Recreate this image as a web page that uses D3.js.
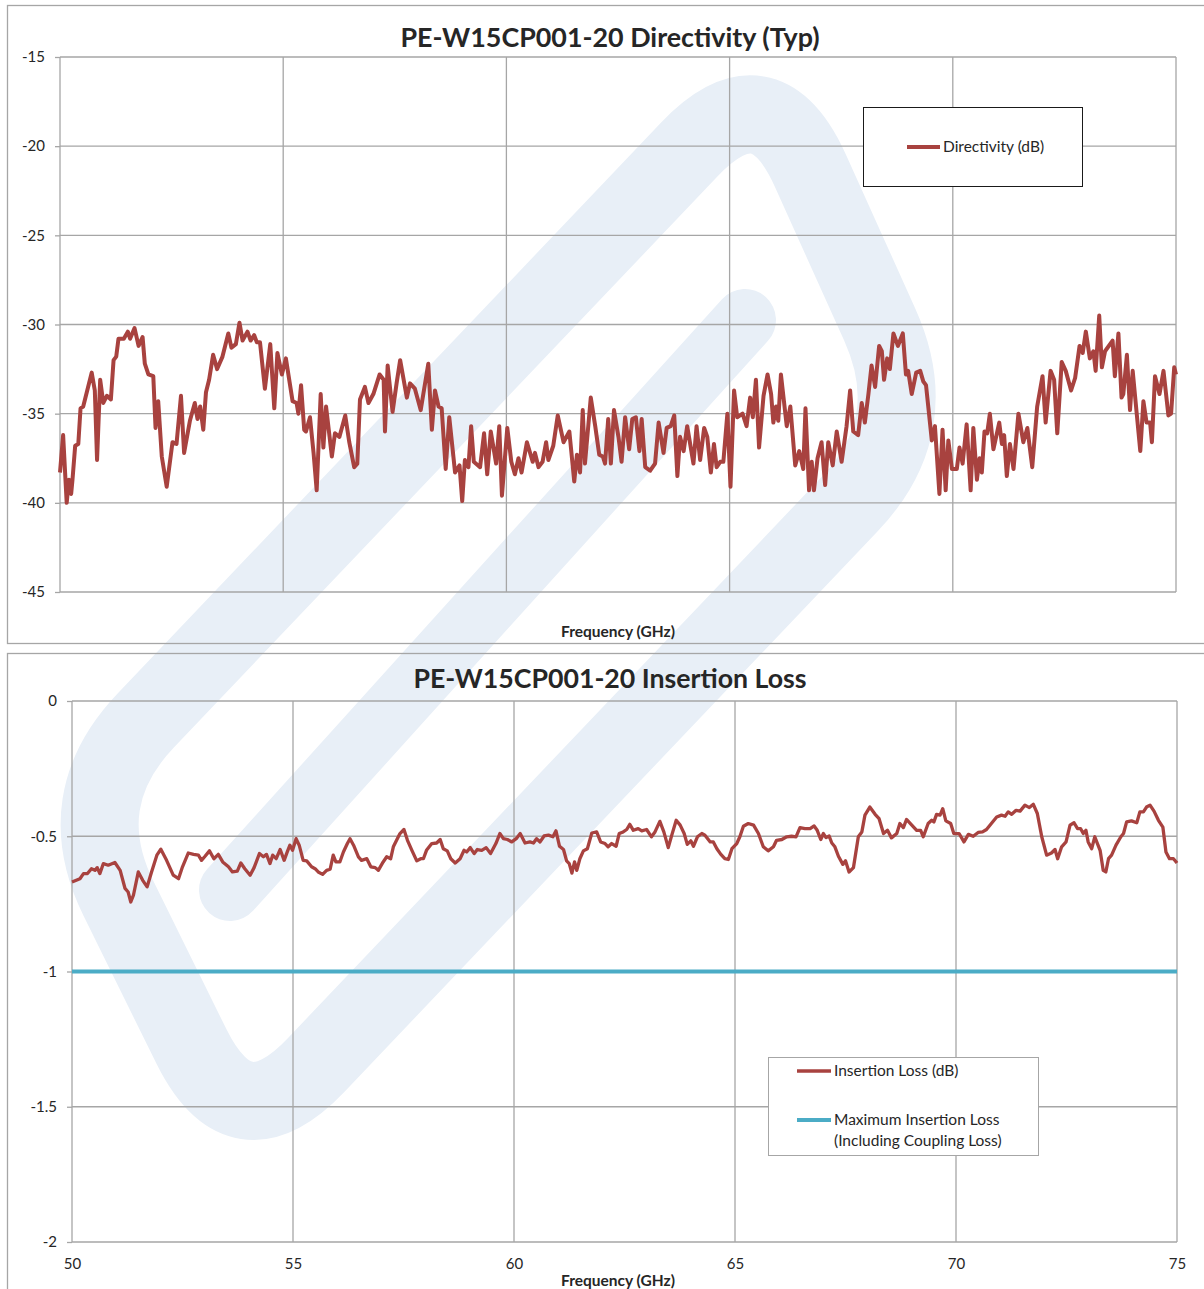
<!DOCTYPE html>
<html><head><meta charset="utf-8">
<script src="https://d3js.org/d3.v7.min.js"></script>
<style>
body { margin:0; background:#fff; }
svg text { font-family: Lato, "Open Sans", sans-serif; fill:#262626; }
</style></head>
<body>
<svg id="chart" width="1204" height="1289"></svg>
<script>
// ---- data ----
var xTicks = [50, 55, 60, 65, 70, 75];
var dirTicks = [-45, -40, -35, -30, -25, -20, -15];
var ilTicks = [-2, -1.5, -1, -0.5, 0];
var ilTickLabels = ["-2", "-1.5", "-1", "-0.5", "0"];

var dirFreq = [50.0,50.07,50.15,50.2,50.25,50.28,50.34,50.41,50.46,50.52,50.61,50.71,50.78,50.83,50.9,50.97,51.05,51.14,51.2,51.26,51.31,51.43,51.52,51.57,51.67,51.76,51.85,51.9,51.98,52.09,52.14,52.2,52.28,52.39,52.52,52.61,52.71,52.78,52.91,53.02,53.08,53.14,53.21,53.27,53.34,53.43,53.52,53.64,53.77,53.84,53.94,54.02,54.09,54.2,54.27,54.35,54.41,54.48,54.59,54.71,54.8,54.87,54.97,55.06,55.21,55.3,55.34,55.4,55.47,55.51,55.6,55.68,55.75,55.84,55.9,55.96,56.09,56.16,56.26,56.39,56.48,56.59,56.66,56.72,56.83,56.91,57.02,57.16,57.25,57.28,57.34,57.45,57.54,57.62,
57.77,57.84,57.95,58.08,58.25,58.33,58.4,58.48,58.55,58.64,58.72,58.85,58.95,59.01,59.07,59.15,59.21,59.27,59.41,59.5,59.57,59.65,59.77,59.84,59.9,60.02,60.11,60.19,60.27,60.34,60.46,60.59,60.64,60.72,60.81,60.89,60.94,61.05,61.15,61.28,61.41,61.52,61.58,61.65,61.71,61.76,61.89,61.99,62.08,62.16,62.21,62.28,62.34,62.41,62.51,62.58,62.66,62.75,62.82,62.9,62.98,63.03,63.11,63.22,63.33,63.41,63.52,63.59,63.68,63.76,63.83,63.89,63.97,64.05,64.19,64.26,64.34,64.43,64.5,64.58,64.65,64.71,64.79,64.86,64.95,65.02,65.1,65.17,65.29,65.38,65.46,65.52,65.59,65.66,65.76,65.85,65.93,65.98,66.04,66.09,66.15,66.28,66.36,66.47,66.56,
66.65,66.7,66.78,66.84,66.89,66.97,67.06,67.14,67.21,67.31,67.4,67.51,67.62,67.7,67.77,67.88,67.96,68.03,68.11,68.18,68.26,68.35,68.41,68.46,68.53,68.59,68.67,68.77,68.88,68.95,69.0,69.08,69.18,69.27,69.34,69.4,69.53,69.6,69.7,69.77,69.84,69.9,69.98,70.09,70.15,70.22,70.31,70.4,70.46,70.54,70.6,70.65,70.71,70.77,70.83,70.91,71.04,71.1,71.15,71.21,71.28,71.36,71.47,71.58,71.67,71.78,71.89,72.01,72.08,72.19,72.27,72.34,72.44,72.53,72.65,72.74,72.84,72.91,72.98,73.07,73.15,73.2,73.28,73.34,73.41,73.58,73.63,73.71,73.78,73.82,73.9,73.97,74.03,74.12,74.2,74.27,74.34,74.42,74.46,74.53,74.63,74.72,74.83,74.89,74.96,75.0];
var dirDb = [-38.3,-36.2,-40.0,-38.7,-39.5,-38.7,-36.8,-36.7,-34.7,-34.6,-33.7,-32.7,-33.7,-37.6,-33.1,-34.4,-34.0,-34.2,-32.0,-31.8,-30.8,-30.8,-30.4,-30.8,-30.2,-31.2,-30.7,-32.2,-32.8,-32.9,-35.8,-34.3,-37.4,-39.1,-36.6,-36.7,-34.0,-37.2,-35.4,-34.4,-35.3,-34.6,-35.9,-33.8,-33.1,-31.7,-32.5,-31.8,-30.5,-31.3,-31.1,-29.9,-30.9,-30.4,-30.9,-30.6,-31.0,-31.0,-33.6,-31.1,-34.7,-31.6,-32.8,-31.9,-34.3,-34.4,-35.0,-33.4,-35.9,-36.0,-35.2,-37.2,-39.3,-33.9,-36.9,-34.6,-37.4,-36.1,-36.3,-35.1,-36.6,-38.0,-37.8,-34.2,-33.5,-34.4,-33.9,-32.8,-33.1,-36.0,-32.3,-34.9,-33.3,-32.0,
-34.1,-33.3,-33.6,-34.8,-32.2,-35.9,-33.7,-34.6,-34.7,-38.1,-35.2,-38.3,-37.9,-39.9,-37.6,-38.0,-35.7,-37.7,-38.0,-36.1,-38.4,-36.0,-37.8,-35.7,-39.6,-35.8,-37.7,-38.4,-37.5,-38.3,-36.6,-37.7,-37.2,-38.0,-37.7,-36.6,-37.6,-36.8,-35.1,-36.6,-36.0,-38.8,-37.3,-38.3,-34.8,-37.8,-34.1,-35.7,-37.3,-37.4,-37.8,-35.3,-37.8,-34.8,-36.3,-37.7,-35.2,-37.0,-35.3,-35.2,-37.1,-35.3,-38.0,-38.2,-37.8,-35.5,-37.2,-35.8,-35.7,-35.1,-38.5,-36.3,-37.1,-35.7,-37.8,-35.7,-37.6,-35.8,-36.3,-38.3,-36.7,-38.0,-37.7,-37.7,-35.0,-39.1,-33.7,-35.2,-35.0,-35.7,-34.1,-35.2,-33.1,-36.9,-34.0,-32.8,-33.9,-35.5,-34.6,-35.4,-32.8,-35.7,-34.6,-37.9,-37.1,
-38.1,-34.7,-39.3,-37.7,-39.3,-37.5,-36.6,-39.0,-36.6,-37.9,-36.0,-37.7,-35.7,-33.7,-36.0,-36.2,-34.4,-35.5,-33.9,-32.3,-33.5,-31.2,-31.5,-33.1,-31.9,-32.5,-30.5,-31.2,-30.5,-32.8,-32.6,-33.9,-32.7,-32.6,-33.2,-33.4,-36.5,-35.7,-39.5,-35.9,-39.3,-36.5,-38.1,-38.1,-36.9,-37.8,-35.6,-39.3,-35.8,-38.7,-37.5,-38.3,-36.0,-36.1,-35.0,-37.0,-35.5,-36.7,-36.2,-38.5,-36.7,-38.1,-35.0,-36.6,-35.8,-38.0,-34.6,-32.9,-35.5,-32.6,-33.1,-36.1,-32.1,-32.6,-33.7,-33.0,-31.2,-31.6,-30.4,-31.9,-31.5,-32.6,-29.5,-32.4,-31.5,-30.9,-32.9,-30.5,-34.1,-33.9,-31.7,-34.8,-32.6,-35.0,-37.1,-34.3,-35.5,-35.5,-36.6,-32.9,-33.9,-32.6,-35.1,-35.0,-32.4,-32.8];

var ilFreq = [50.0,50.18,50.26,50.35,50.44,50.52,50.57,50.63,50.71,50.82,50.97,51.09,51.2,51.27,51.33,51.39,51.5,51.6,51.7,51.8,51.92,52.01,52.14,52.29,52.41,52.5,52.63,52.75,52.86,52.93,53.01,53.11,53.21,53.31,53.41,53.54,53.63,53.74,53.82,53.91,54.03,54.12,54.24,54.33,54.4,54.48,54.54,54.62,54.71,54.8,54.87,54.93,54.99,55.07,55.14,55.23,55.31,55.42,55.5,55.57,55.67,55.76,55.84,55.91,55.97,56.06,56.14,56.23,56.29,56.37,56.48,56.55,56.67,56.76,56.86,56.93,57.04,57.12,57.21,57.27,57.36,57.42,
57.51,57.59,57.69,57.8,57.89,57.95,58.02,58.14,58.25,58.33,58.4,58.49,58.57,58.67,58.78,58.87,58.93,59.01,59.1,59.17,59.27,59.37,59.47,59.59,59.68,59.76,59.85,59.95,60.05,60.14,60.25,60.36,60.44,60.51,60.59,60.68,60.78,60.88,60.95,61.03,61.12,61.19,61.25,61.31,61.37,61.42,61.49,61.57,61.66,61.76,61.87,61.96,62.06,62.13,62.21,62.31,62.38,62.47,62.55,62.62,62.7,62.81,62.89,63.0,63.11,63.19,63.3,63.39,63.49,63.57,63.67,63.76,63.85,63.92,64.0,64.06,64.15,64.25,64.32,64.44,64.51,64.59,64.68,64.77,64.85,64.93,65.04,65.11,65.19,65.3,65.42,65.53,65.64,65.75,65.87,65.94,66.06,66.17,66.28,66.38,66.47,
66.58,66.7,66.79,66.86,66.94,67.0,67.06,67.13,67.19,67.26,67.34,67.44,67.5,67.58,67.68,67.79,67.87,67.94,68.05,68.17,68.26,68.36,68.45,68.54,68.66,68.73,68.81,68.88,69.0,69.11,69.2,69.26,69.37,69.45,69.5,69.56,69.64,69.7,69.77,69.88,69.95,70.07,70.18,70.28,70.39,70.5,70.6,70.69,70.8,70.92,71.03,71.11,71.18,71.26,71.36,71.45,71.56,71.66,71.75,71.84,71.94,72.05,72.16,72.24,72.3,72.39,72.49,72.58,72.67,72.75,72.82,72.88,72.94,72.99,73.07,73.14,73.26,73.33,73.39,73.45,73.52,73.62,73.73,73.79,73.86,73.97,74.09,74.16,74.24,74.31,74.39,74.48,74.58,74.68,74.75,74.83,74.92,75.0];
var ilDb = [-0.669,-0.657,-0.638,-0.638,-0.620,-0.626,-0.616,-0.638,-0.601,-0.607,-0.597,-0.626,-0.693,-0.706,-0.743,-0.718,-0.632,-0.663,-0.687,-0.632,-0.570,-0.548,-0.589,-0.644,-0.657,-0.613,-0.562,-0.567,-0.570,-0.589,-0.574,-0.554,-0.583,-0.567,-0.595,-0.613,-0.632,-0.629,-0.599,-0.620,-0.644,-0.616,-0.564,-0.576,-0.567,-0.601,-0.570,-0.583,-0.549,-0.589,-0.558,-0.533,-0.552,-0.509,-0.533,-0.589,-0.591,-0.613,-0.620,-0.632,-0.641,-0.626,-0.622,-0.570,-0.595,-0.595,-0.558,-0.527,-0.509,-0.533,-0.576,-0.589,-0.583,-0.613,-0.616,-0.626,-0.595,-0.576,-0.583,-0.539,-0.509,-0.490,
-0.475,-0.515,-0.552,-0.591,-0.583,-0.583,-0.552,-0.527,-0.525,-0.512,-0.546,-0.554,-0.583,-0.599,-0.583,-0.552,-0.558,-0.542,-0.564,-0.549,-0.552,-0.542,-0.564,-0.527,-0.490,-0.509,-0.512,-0.521,-0.509,-0.490,-0.525,-0.521,-0.525,-0.509,-0.521,-0.499,-0.496,-0.502,-0.480,-0.537,-0.549,-0.591,-0.601,-0.636,-0.595,-0.626,-0.583,-0.554,-0.546,-0.488,-0.484,-0.521,-0.527,-0.539,-0.527,-0.537,-0.490,-0.484,-0.475,-0.456,-0.478,-0.472,-0.480,-0.475,-0.502,-0.484,-0.445,-0.484,-0.542,-0.496,-0.441,-0.459,-0.490,-0.530,-0.517,-0.537,-0.502,-0.490,-0.496,-0.521,-0.521,-0.546,-0.567,-0.583,-0.586,-0.546,-0.527,-0.502,-0.463,-0.453,-0.459,-0.490,-0.539,-0.554,-0.539,-0.515,-0.512,-0.502,-0.500,-0.502,-0.468,
-0.472,-0.472,-0.462,-0.478,-0.512,-0.490,-0.505,-0.499,-0.525,-0.539,-0.574,-0.604,-0.591,-0.632,-0.616,-0.502,-0.484,-0.422,-0.392,-0.419,-0.435,-0.490,-0.478,-0.506,-0.490,-0.453,-0.468,-0.438,-0.459,-0.478,-0.478,-0.502,-0.453,-0.441,-0.447,-0.419,-0.422,-0.398,-0.443,-0.453,-0.490,-0.490,-0.521,-0.493,-0.500,-0.486,-0.484,-0.475,-0.453,-0.429,-0.422,-0.426,-0.410,-0.419,-0.404,-0.407,-0.385,-0.394,-0.382,-0.416,-0.502,-0.570,-0.562,-0.549,-0.583,-0.539,-0.521,-0.459,-0.450,-0.472,-0.472,-0.490,-0.478,-0.521,-0.546,-0.502,-0.552,-0.626,-0.632,-0.583,-0.570,-0.533,-0.502,-0.490,-0.447,-0.443,-0.450,-0.410,-0.410,-0.392,-0.385,-0.407,-0.441,-0.466,-0.558,-0.583,-0.583,-0.599];
var maxIL = -1;

var red = "#a8423f", cyan = "#4bacc6", grid = "#a6a6a6";

var svg = d3.select("#chart");
svg.append("rect").attr("width", 1204).attr("height", 1289).attr("fill", "#fff");

// ---- watermark logo (background) ----
function rounded(pts, r) {
  var n = pts.length, s = "";
  for (var i = 0; i < n; i++) {
    var p = pts[i], a = pts[(i + n - 1) % n], b = pts[(i + 1) % n];
    var da = Math.hypot(a[0] - p[0], a[1] - p[1]), db = Math.hypot(b[0] - p[0], b[1] - p[1]);
    var p1 = [p[0] + (a[0] - p[0]) * r / da, p[1] + (a[1] - p[1]) * r / da];
    var p2 = [p[0] + (b[0] - p[0]) * r / db, p[1] + (b[1] - p[1]) * r / db];
    s += (i ? "L" : "M") + p1 + "Q" + p + " " + p2;
  }
  return s + "Z";
}
var wm = svg.append("g")
  .attr("fill", "none").attr("stroke", "#e8eff7")
  .attr("stroke-linejoin", "round").attr("stroke-linecap", "round");
wm.append("path").attr("d", rounded([[70, 800], [765, 70], [925, 425], [240, 1145]], 110)).attr("stroke-width", 78);
wm.append("path").attr("d", "M230,890L745,320").attr("stroke-width", 62);

function frame(y, h) {
  svg.append("rect").attr("x", 7.5).attr("y", y).attr("width", 1210).attr("height", h)
    .attr("fill", "none").attr("stroke", "#a6a6a6").attr("stroke-width", 1.3);
}

function styleAxis(g) {
  g.select(".domain").remove();
  g.selectAll(".tick line").attr("stroke", grid).attr("stroke-width", 1.3);
  g.selectAll(".tick text").attr("font-family", "Lato, 'Open Sans', sans-serif")
    .attr("font-size", 15).attr("fill", "#262626");
}

function gridlines(g, x, y, yt) {
  var xr = x.range(), yr = y.range();
  g.append("g").selectAll("line").data(yt).join("line")
    .attr("x1", xr[0]).attr("x2", xr[1])
    .attr("y1", function(d) { return y(d); }).attr("y2", function(d) { return y(d); })
    .attr("stroke", grid).attr("stroke-width", 1.3);
  g.append("g").selectAll("line").data(xTicks).join("line")
    .attr("x1", function(d) { return x(d); }).attr("x2", function(d) { return x(d); })
    .attr("y1", yr[0]).attr("y2", yr[1])
    .attr("stroke", grid).attr("stroke-width", 1.3);
}

function title(txt, y, len) {
  svg.append("text").attr("x", 610).attr("y", y).attr("text-anchor", "middle")
    .attr("font-size", 26).attr("font-weight", "bold")
    .attr("textLength", len).attr("lengthAdjust", "spacingAndGlyphs").text(txt);
}

function axisTitle(y) {
  svg.append("text").attr("x", 618).attr("y", y).attr("text-anchor", "middle")
    .attr("font-size", 15.5).attr("font-weight", "bold").text("Frequency (GHz)");
}

// ---- chart 1: directivity ----
frame(5.5, 638);
var x1 = d3.scaleLinear().domain([50, 75]).range([60, 1176]);
var y1 = d3.scaleLinear().domain([-45, -15]).range([592, 57]);
var c1 = svg.append("g");
gridlines(c1, x1, y1, dirTicks);
c1.append("g").attr("transform", "translate(60,0)")
  .call(d3.axisLeft(y1).tickValues(dirTicks).tickSize(5).tickPadding(10)
    .tickFormat(function(d) { return String(d); }))
  .call(styleAxis);
c1.append("path").datum(d3.zip(dirFreq, dirDb))
  .attr("fill", "none").attr("stroke", red).attr("stroke-width", 4)
  .attr("stroke-linejoin", "round")
  .attr("d", d3.line().x(function(d) { return x1(d[0]); }).y(function(d) { return y1(d[1]); }));
title("PE-W15CP001-20 Directivity (Typ)", 47, 419);
axisTitle(637);

var lg1 = svg.append("g");
lg1.append("rect").attr("x", 863.5).attr("y", 107.5).attr("width", 219).attr("height", 79)
  .attr("fill", "#fff").attr("stroke", "#1a1a1a").attr("stroke-width", 1);
lg1.append("line").attr("x1", 907).attr("x2", 940).attr("y1", 147).attr("y2", 147)
  .attr("stroke", red).attr("stroke-width", 4);
lg1.append("text").attr("x", 943).attr("y", 152).attr("font-size", 15.5).text("Directivity (dB)");

// ---- chart 2: insertion loss ----
frame(653.5, 650);
var x2 = d3.scaleLinear().domain([50, 75]).range([72, 1177]);
var y2 = d3.scaleLinear().domain([-2, 0]).range([1242, 701]);
var c2 = svg.append("g");
gridlines(c2, x2, y2, ilTicks);
c2.append("g").attr("transform", "translate(72,0)")
  .call(d3.axisLeft(y2).tickValues(ilTicks).tickSize(5).tickPadding(10)
    .tickFormat(function(d, i) { return ilTickLabels[i]; }))
  .call(styleAxis);
c2.append("g").attr("transform", "translate(0,1242)")
  .call(d3.axisBottom(x2).tickValues(xTicks).tickSize(0).tickPadding(16))
  .call(styleAxis);
c2.append("line")
  .attr("x1", x2(50)).attr("x2", x2(75)).attr("y1", y2(maxIL)).attr("y2", y2(maxIL))
  .attr("stroke", cyan).attr("stroke-width", 4);
c2.append("path").datum(d3.zip(ilFreq, ilDb))
  .attr("fill", "none").attr("stroke", red).attr("stroke-width", 3.3)
  .attr("stroke-linejoin", "round")
  .attr("d", d3.line().x(function(d) { return x2(d[0]); }).y(function(d) { return y2(d[1]); }));
title("PE-W15CP001-20 Insertion Loss", 688, 393);
axisTitle(1286);

var lg2 = svg.append("g");
lg2.append("rect").attr("x", 768.5).attr("y", 1057.5).attr("width", 270).attr("height", 98)
  .attr("fill", "#fff").attr("stroke", "#a6a6a6").attr("stroke-width", 1);
lg2.append("line").attr("x1", 797).attr("x2", 831).attr("y1", 1071).attr("y2", 1071)
  .attr("stroke", red).attr("stroke-width", 3.3);
lg2.append("text").attr("x", 834).attr("y", 1076).attr("font-size", 15.5).text("Insertion Loss (dB)");
lg2.append("line").attr("x1", 797).attr("x2", 831).attr("y1", 1120).attr("y2", 1120)
  .attr("stroke", cyan).attr("stroke-width", 4);
lg2.append("text").attr("x", 834).attr("y", 1125).attr("font-size", 15.5).text("Maximum Insertion Loss");
lg2.append("text").attr("x", 834).attr("y", 1146).attr("font-size", 15.5).text("(Including Coupling Loss)");
</script>
</body></html>
